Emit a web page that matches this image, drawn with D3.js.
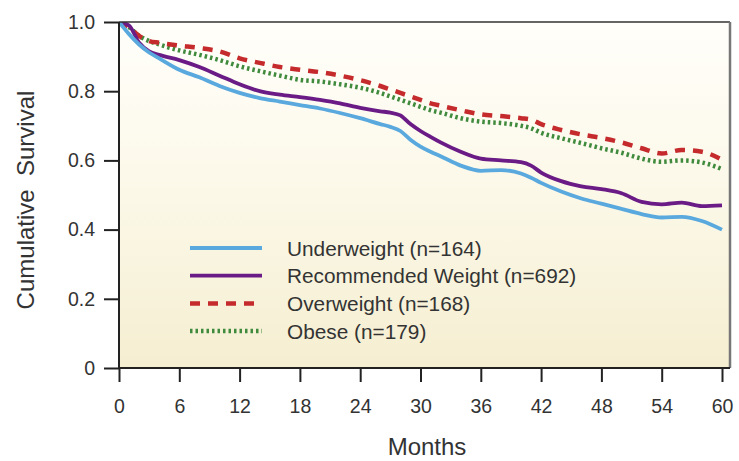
<!DOCTYPE html>
<html>
<head>
<meta charset="utf-8">
<script src="https://cdn.jsdelivr.net/npm/d3@7"></script>
<style>
  body { margin: 0; background: #fff; }
  text { font-family: "Liberation Sans", Arial, Helvetica, sans-serif; fill: #333; }
</style>
</head>
<body>
<div id="chart"></div>
<script>
const months = [0, 1, 2, 3, 4, 6, 8, 10, 12, 14, 16, 18, 20, 22, 24, 26, 27, 28, 29, 30, 31, 32, 34, 36, 38, 40, 41, 42, 44, 46, 48, 50, 52, 54, 56, 58, 60];

const underweight = [1.0, 0.965, 0.935, 0.912, 0.895, 0.862, 0.84, 0.815, 0.795, 0.78, 0.77, 0.76, 0.75, 0.737, 0.722, 0.705, 0.697, 0.685, 0.66, 0.64, 0.625, 0.612, 0.585, 0.57, 0.572, 0.562, 0.55, 0.535, 0.51, 0.49, 0.475, 0.46, 0.445, 0.435, 0.437, 0.425, 0.40];
const recommended = [1.0, 0.99, 0.94, 0.915, 0.905, 0.89, 0.87, 0.845, 0.82, 0.80, 0.79, 0.783, 0.775, 0.765, 0.752, 0.742, 0.738, 0.73, 0.705, 0.685, 0.668, 0.652, 0.625, 0.605, 0.60, 0.595, 0.585, 0.565, 0.54, 0.525, 0.517, 0.505, 0.48, 0.473, 0.478, 0.468, 0.47];
const overweight = [1.0, 0.985, 0.96, 0.945, 0.94, 0.932, 0.925, 0.915, 0.895, 0.882, 0.87, 0.862, 0.855, 0.845, 0.832, 0.815, 0.805, 0.795, 0.785, 0.775, 0.765, 0.758, 0.745, 0.733, 0.728, 0.722, 0.718, 0.705, 0.688, 0.675, 0.665, 0.652, 0.635, 0.62, 0.63, 0.625, 0.602];
const obese = [1.0, 0.985, 0.96, 0.945, 0.935, 0.918, 0.905, 0.89, 0.872, 0.858, 0.845, 0.833, 0.828, 0.82, 0.81, 0.795, 0.785, 0.775, 0.765, 0.755, 0.745, 0.738, 0.722, 0.712, 0.708, 0.70, 0.693, 0.68, 0.664, 0.65, 0.635, 0.622, 0.605, 0.596, 0.60, 0.594, 0.575];

const xTicks = [0, 6, 12, 18, 24, 30, 36, 42, 48, 54, 60];
const yTicks = [0, 0.2, 0.4, 0.6, 0.8, 1.0];

const series = [
  { name: "Underweight (n=164)", values: underweight, color: "#5aa9de", dash: null, width: 3.8 },
  { name: "Recommended Weight (n=692)", values: recommended, color: "#6a1b86", dash: null, width: 3.8 },
  { name: "Overweight (n=168)", values: overweight, color: "#c52a2c", dash: "10,8", width: 4.5 },
  { name: "Obese (n=179)", values: obese, color: "#3f8a3c", dash: "2.5,3", width: 4.5 }
];

const width = 739, height = 461;
const pLeft = 119, pRight = 730, pTop = 22, pBottom = 368;

const x = d3.scaleLinear().domain([0, 60]).range([pLeft, 722]);
const y = d3.scaleLinear().domain([0, 1]).range([pBottom, pTop]);

const svg = d3.select("#chart").append("svg")
    .attr("width", width)
    .attr("height", height);

const defs = svg.append("defs");
const grad = defs.append("linearGradient")
    .attr("id", "bg")
    .attr("x1", 0).attr("y1", 0).attr("x2", 0).attr("y2", 1);
grad.append("stop").attr("offset", "0%").attr("stop-color", "#fffefa");
grad.append("stop").attr("offset", "45%").attr("stop-color", "#fcf9ea");
grad.append("stop").attr("offset", "100%").attr("stop-color", "#f5eed1");

defs.append("clipPath").attr("id", "clip")
  .append("rect")
    .attr("x", pLeft).attr("y", pTop)
    .attr("width", pRight - pLeft).attr("height", pBottom - pTop);

// plot background
svg.append("rect")
    .attr("x", pLeft).attr("y", pTop)
    .attr("width", pRight - pLeft).attr("height", pBottom - pTop)
    .attr("fill", "url(#bg)");

// curves
const line = d3.line()
    .x((d, i) => x(months[i]))
    .y(d => y(d))
    .curve(d3.curveMonotoneX);

svg.append("g")
    .attr("clip-path", "url(#clip)")
  .selectAll("path")
  .data(series.slice().reverse())
  .join("path")
    .attr("d", d => line(d.values))
    .attr("fill", "none")
    .attr("stroke", d => d.color)
    .attr("stroke-width", d => d.width)
    .attr("stroke-dasharray", d => d.dash)
    .attr("stroke-linejoin", "round");

// frame
svg.append("line")
    .attr("x1", pLeft).attr("x2", pRight).attr("y1", pTop).attr("y2", pTop)
    .attr("stroke", "#333").attr("stroke-width", 1.5);
svg.append("line")
    .attr("x1", pRight).attr("x2", pRight).attr("y1", pTop).attr("y2", pBottom)
    .attr("stroke", "#777").attr("stroke-width", 2.5);

// axes
const xAxis = svg.append("g")
    .attr("transform", `translate(0,${pBottom})`)
    .call(d3.axisBottom(x).tickValues(xTicks).tickSize(14).tickPadding(17).tickFormat(d3.format("d")));
xAxis.select(".domain").attr("d", `M${pLeft},0H${pRight}`).attr("stroke", "#222").attr("stroke-width", 2);
xAxis.selectAll(".tick line").attr("stroke", "#222").attr("stroke-width", 2);
xAxis.selectAll(".tick text")
    .attr("font-size", 19.5)
    .attr("fill", "#333")
    .attr("dy", "0.71em");

const yAxis = svg.append("g")
    .attr("transform", `translate(${pLeft},0)`)
    .call(d3.axisLeft(y).tickValues(yTicks).tickSize(15).tickPadding(9)
      .tickFormat(d => d === 0 ? "0" : d3.format(".1f")(d)));
yAxis.select(".domain").attr("d", `M0,${pBottom}V${pTop}`).attr("stroke", "#222").attr("stroke-width", 2);
yAxis.selectAll(".tick line").attr("stroke", "#222").attr("stroke-width", 2);
yAxis.selectAll(".tick text")
    .attr("font-size", 19.5)
    .attr("fill", "#333");

// axis titles
svg.append("text")
    .attr("x", 427).attr("y", 455)
    .attr("text-anchor", "middle")
    .attr("font-size", 24)
    .text("Months");

svg.append("text")
    .attr("transform", "translate(34,200) rotate(-90)")
    .attr("text-anchor", "middle")
    .attr("font-size", 24)
    .style("white-space", "pre")
    .text("Cumulative  Survival");

// legend
const legend = svg.append("g");
const rows = legend.selectAll("g")
  .data(series)
  .join("g")
    .attr("transform", (d, i) => `translate(190,${248 + i * 27.7})`);

rows.append("line")
    .attr("x1", 0).attr("x2", 72)
    .attr("stroke", d => d.color)
    .attr("stroke-width", d => d.width)
    .attr("stroke-dasharray", d => d.dash);

rows.append("text")
    .attr("x", 97).attr("y", 7.5)
    .attr("font-size", 20.8)
    .attr("fill", "#333")
    .text(d => d.name);
</script>
</body>
</html>
